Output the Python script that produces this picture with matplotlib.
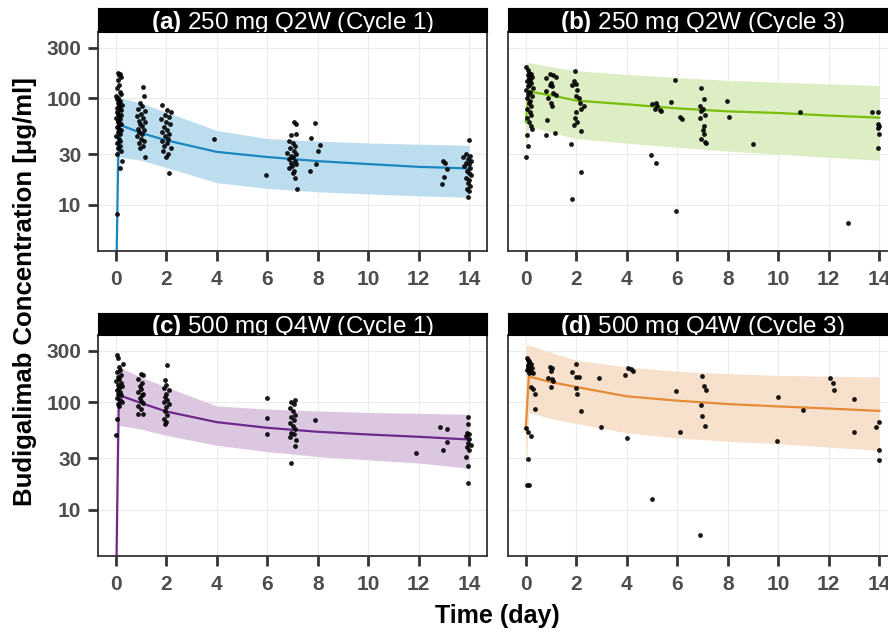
import numpy as np
import matplotlib
matplotlib.use("Agg")
import matplotlib.pyplot as plt
from matplotlib.ticker import FixedLocator, NullLocator, FixedFormatter

plt.rcParams['font.family'] = ['Liberation Sans', 'DejaVu Sans']
plt.rcParams['mathtext.fontset'] = 'custom'
plt.rcParams['mathtext.rm'] = 'Liberation Sans'
plt.rcParams['mathtext.bf'] = 'Liberation Sans:bold'

nan = np.nan

# ---------------- data ----------------
panel_titles = [r"$\mathbf{(a)}$ 250 mg Q2W (Cycle 1)",
                r"$\mathbf{(b)}$ 250 mg Q2W (Cycle 3)",
                r"$\mathbf{(c)}$ 500 mg Q4W (Cycle 1)",
                r"$\mathbf{(d)}$ 500 mg Q4W (Cycle 3)"]
x_ticks = [0, 2, 4, 6, 8, 10, 12, 14]
y_ticks = [10, 30, 100, 300]
y_tick_labels = ["10", "30", "100", "300"]

model_t = [0, 0.125, 1, 2, 4, 6, 8, 10, 12, 14]

a_med = [1.0, 57, 47.4, 40.5, 31.5, 28.2, 25.8, 24.2, 22.8, 22.0]
a_lo = [nan, 28.3, 26.3, 22.5, 16.2, 14.3, 13.3, 12.7, 12.2, 11.8]
a_hi = [nan, 103, 90, 74.5, 50, 42, 39.8, 38.2, 37.2, 36.3]

b_med = [60, 116, 107, 95.5, 88, 80.6, 75.6, 73, 69, 66]
b_lo = [32, 55, 48, 42, 38, 34.8, 32, 30, 28, 26.3]
b_hi = [212, 217, 198, 182, 168, 157, 148, 142, 137, 132]

c_med = [1.0, 116, 98, 81.7, 65, 57.6, 52.9, 49.9, 47.5, 44.8]
c_lo = [nan, 60.7, 56, 49, 39.6, 34.6, 31.1, 29.0, 27.1, 24.2]
c_hi = [nan, 212, 170, 138, 92, 86, 82.6, 80, 78.5, 77]

d_med = [55.6, 173, 153, 138, 113, 103, 95.7, 91, 87, 82.7]
d_lo = [20, 80, 70, 63, 51.7, 46.4, 43.1, 41, 38, 35.5]
d_hi = [330, 340, 290, 245, 212, 193, 184, 177, 174, 171]

# observations, panel a
a_obs_t = [0.10, 0.18, 0.14, 0.22, 0.08, 0.12, 0.05, 0.16, 0.20, 0.03, 0.11, 0.07, 0.19, 0.15, 0.09, 0.24,
           0.13, 0.04, 0.17, 0.21, 0.06, 0.10, 0.23, 0.14, 0.02, 0.18, 0.11, 0.08, 0.20, 0.15, 0.05, 0.12,
           0.22, 0.09, 0.17, 0.03, 0.13, 0.19, 0.07, 0.16, 0.10, 0.21, 0.06, 0.25, 0.18, 0.05,
           1.10, 1.12, 0.95, 1.05, 0.90, 1.15, 1.00, 0.85, 1.08, 0.92, 1.18, 0.97, 1.03, 0.88, 1.12, 0.94,
           1.06, 0.86, 1.01, 1.14, 0.91, 1.09, 0.96, 1.15,
           1.85, 2.05, 2.20, 1.95, 2.10, 1.80, 2.00, 2.15, 1.90, 2.05, 1.85, 2.12, 1.97, 2.08, 1.83, 2.02,
           1.93, 2.18, 1.88, 2.06, 1.98, 2.10,
           3.89, 5.96,
           7.05, 7.12, 7.15, 6.95, 6.85, 7.00, 7.10, 6.90, 7.05, 6.80, 7.15, 6.95, 7.02, 6.88, 7.08, 6.93,
           7.13, 6.98, 6.86, 7.06, 7.00, 7.10, 7.18,
           7.74, 7.90, 8.08, 8.02, 7.95, 7.70,
           12.95, 13.05, 13.10, 13.00, 12.92,
           13.98, 13.85, 14.02, 13.75, 13.95, 14.05, 13.88, 13.99, 13.80, 14.03, 13.92, 13.97, 14.06, 13.86,
           14.00, 13.94, 14.04, 13.90, 13.98, 13.96]
a_obs_c = [175, 170, 165, 160, 150, 135, 125, 115, 110, 105, 100, 98, 95, 92, 90, 87,
           85, 82, 80, 78, 75, 72, 70, 68, 66, 64, 62, 60, 58, 56, 54, 52,
           50, 48, 46, 44, 42, 40, 38, 36, 34, 32, 30, 26, 22, 8.2,
           128, 105, 90, 85, 80, 76, 72, 68, 65, 62, 60, 57, 55, 52, 50, 48,
           46, 44, 42, 40, 38, 36, 34, 28,
           86, 78, 75, 70, 67, 64, 60, 57, 54, 51, 48, 46, 44, 42, 40, 38,
           36, 34, 32, 30, 28, 20,
           42, 19,
           60, 57, 46, 45, 40, 38, 36, 34, 32, 31, 30, 29, 28, 27, 26, 25,
           24, 23, 22, 21, 20, 18, 14,
           42.6, 59, 36.3, 32, 24.2, 20.9,
           25.9, 25, 21.7, 18.2, 15.8,
           41, 30, 29, 28, 27, 26, 25, 24, 23, 22, 21, 20, 19, 18,
           17, 16, 15, 14, 13.5, 12]

# observations, panel b
b_obs_t = [0.02, 0.10, 0.15, 0.20, 0.08, 0.25, 0.12, 0.18, 0.05, 0.22, 0.14, 0.09, 0.27, 0.03, 0.17, 0.11,
           0.24, 0.06, 0.19, 0.13, 0.21, 0.04, 0.16, 0.23, 0.07, 0.12, 0.20, 0.26, 0.05, 0.10, 0.02,
           0.95, 1.10, 1.20, 0.80, 1.00, 0.95, 1.05, 0.80, 1.10, 1.20, 0.90, 1.00, 1.05, 0.85, 0.80, 1.15,
           1.95, 1.90, 2.00, 1.85, 2.05, 2.00, 2.10, 2.15, 2.30, 2.20, 2.00, 1.95, 2.05, 1.90, 2.20, 1.78,
           2.20, 1.85,
           5.00, 5.15, 5.20, 5.30, 5.35, 5.10, 4.95, 5.15,
           5.76, 5.90, 6.10, 6.20, 5.95,
           6.95, 7.05, 6.90, 7.00, 6.95, 7.10, 6.90, 7.05, 7.00, 7.05, 6.95, 7.10, 7.15,
           7.97, 8.05, 8.99, 10.86, 12.77,
           13.70, 13.95, 13.95, 14.00, 13.95, 14.00, 13.95]
b_obs_c = [199, 185, 175, 170, 165, 160, 155, 150, 145, 140, 135, 130, 125, 120, 115, 110,
           105, 100, 95, 90, 85, 80, 75, 70, 65, 60, 55, 52, 45, 36, 28,
           170, 165, 160, 155, 140, 135, 130, 118, 112, 108, 100, 90, 85, 63, 45, 47,
           182, 145, 138, 133, 120, 106, 100, 90, 85, 80, 74, 65, 60, 56, 49, 37,
           20.4, 11.4,
           88, 90, 85, 78, 76, 80, 29.3, 24.9,
           92.4, 150, 66.5, 63.9, 8.7,
           126, 99, 84, 80, 77, 70, 66, 55, 50, 46, 42, 39, 38,
           94.5, 66.7, 37.2, 74.5, 6.8,
           75, 75, 58, 55, 53, 46, 34]

# observations, panel c
c_obs_t = [0.05, 0.08, 0.30, 0.12, 0.18, 0.06, 0.22, 0.10, 0.15, 0.03, 0.20, 0.09, 0.25, 0.13, 0.07, 0.17,
           0.11, 0.21, 0.04, 0.16, 0.24, 0.08, 0.14, 0.05, 0.03,
           1.00, 1.10, 0.90, 1.05, 0.95, 1.00, 0.90, 1.10, 1.05, 0.95, 1.00, 1.10, 0.90, 1.00, 0.90, 1.10,
           2.05, 1.95, 2.00, 1.90, 2.10, 2.00, 1.95, 2.05, 1.90, 2.10, 2.00, 1.95, 2.05, 1.90, 2.00, 1.95,
           6.00, 6.00, 6.00,
           7.10, 6.95, 7.05, 6.90, 7.00, 7.10, 6.95, 7.05, 6.90, 7.00, 7.10, 6.95, 7.05, 6.90, 7.15, 7.10,
           6.95,
           7.90, 11.89, 12.85, 13.10, 13.10, 12.95,
           13.95, 13.95, 13.90, 14.00, 13.85, 14.00, 13.95, 14.05, 13.90, 14.00, 13.85, 13.95, 13.95]
c_obs_c = [273, 255, 228, 213, 200, 190, 180, 172, 165, 158, 150, 145, 140, 135, 130, 125,
           120, 115, 110, 105, 100, 95, 92, 69, 49,
           184, 178, 165, 150, 140, 132, 125, 120, 115, 108, 102, 97, 92, 87, 77, 77,
           223, 160, 145, 135, 128, 120, 112, 105, 100, 95, 90, 82, 76, 70, 65, 62,
           108.7, 70.7, 49.9,
           104, 100, 95, 88, 82, 76, 72, 68, 64, 60, 56, 52, 50, 47, 44, 39,
           27,
           67.6, 33.5, 58.6, 56.5, 42.6, 35.5,
           73, 63, 52, 50, 48, 45, 42, 40, 38, 36, 30.5, 25.5, 17.5]

# observations, panel d
d_obs_t = [0.05, 0.10, 0.15, 0.12, 0.20, 0.08, 0.18, 0.10, 0.25, 0.05, 0.15, 0.22, 0.12, 0.30,
           0.20, 0.30, 0.35, 0.35, 0.00, 0.08, 0.20, 0.08, 0.05, 0.15,
           0.95, 1.05, 1.00, 0.90, 1.05, 1.10, 1.00,
           2.00, 1.85, 2.00, 2.10, 2.00, 2.05, 2.20,
           2.89, 2.97,
           4.05, 4.15, 4.25, 3.95, 4.00,
           5.00, 5.95, 6.10,
           6.98, 7.05, 7.14, 6.95, 6.97, 7.10, 6.90,
           9.99, 9.95, 10.97,
           12.05, 12.15, 12.20,
           13.00, 13.00,
           13.98, 13.85, 14.00, 14.00]
d_obs_c = [258, 245, 240, 232, 225, 220, 215, 210, 205, 200, 198, 192, 188, 185,
           137, 133, 119, 86, 57, 53, 48, 29.7, 17.1, 17.1,
           213, 205, 196, 168, 162, 158, 139,
           228, 190, 171, 171, 135, 119, 82.6,
           167, 58.5,
           205, 203, 195, 177, 46.4,
           12.6, 127, 53,
           173, 141, 128, 93.9, 74.0, 59.7, 5.8,
           112, 43.1, 84,
           165.5, 151, 128,
           106.7, 53,
           65, 58.5, 35.5, 28.6]

line_colors = ["#1A86C0", "#78BE0A", "#6E2A8A", "#E58A35"]
band_colors = ["#BCDDEE", "#DDEDC4", "#DCC7E1", "#F8E1CC"]

meds = [a_med, b_med, c_med, d_med]
los = [a_lo, b_lo, c_lo, d_lo]
his = [a_hi, b_hi, c_hi, d_hi]
obs_t = [a_obs_t, b_obs_t, c_obs_t, d_obs_t]
obs_c = [a_obs_c, b_obs_c, c_obs_c, d_obs_c]

# ---------------- layout ----------------
W, H = 888, 632
fig = plt.figure(figsize=(W / 100, H / 100), dpi=100)
fig.patch.set_facecolor("white")

def rect(x0, y0, x1, y1):
    return [x0 / W, 1 - y1 / H, (x1 - x0) / W, (y1 - y0) / H]

cols = [(98, 487), (508, 897)]
rows = [((8, 32), (32, 251)), ((313, 335), (335, 556))]

tick_col = "#333333"
lab_col = "#4D4D4D"

for i in range(4):
    r, c = divmod(i, 2)
    x0, x1 = cols[c]
    (sy0, sy1), (py0, py1) = rows[r]
    ax = fig.add_axes(rect(x0, py0, x1, py1))
    ax.set_yscale("log")
    ax.set_xlim(-0.7, 14.7)
    ax.set_ylim(3.7, 420)
    ax.yaxis.set_major_locator(FixedLocator(y_ticks))
    ax.yaxis.set_major_formatter(FixedFormatter(y_tick_labels))
    ax.yaxis.set_minor_locator(NullLocator())
    ax.xaxis.set_major_locator(FixedLocator(x_ticks))
    ax.grid(True, which="major", color="#EBEBEB", lw=0.8, zorder=0)
    ax.set_axisbelow(True)
    for s in ax.spines.values():
        s.set_color(tick_col)
        s.set_linewidth(1.3)
        s.set_zorder(5)
    ax.tick_params(axis="both", direction="out", length=7.5, width=2.0, color=tick_col,
                   labelsize=15, labelcolor=lab_col)
    ax.tick_params(axis="x", pad=6.5)
    ax.tick_params(axis="y", pad=4.5)
    for lab in ax.get_xticklabels() + ax.get_yticklabels():
        lab.set_fontweight("bold")
    if c == 1:
        ax.tick_params(axis="y", left=False, labelleft=False)

    ax.fill_between(model_t, los[i], his[i], color=band_colors[i], lw=0, zorder=1)
    ax.plot(model_t, meds[i], color=line_colors[i], lw=1.6, zorder=2)
    ax.scatter(obs_t[i], obs_c[i], s=12, color="black", alpha=0.9, linewidths=0, zorder=3)

    # strip
    sax = fig.add_axes(rect(x0, sy0, x1, sy1))
    sax.set_facecolor("black")
    sax.set_xticks([])
    sax.set_yticks([])
    for s in sax.spines.values():
        s.set_color("black")
    sh = sy1 - sy0
    sax.text(0.5, 2.5 / sh, panel_titles[i], transform=sax.transAxes, ha="center",
             va="baseline", color="white", fontsize=17.5, clip_on=True)

fig.text(497 / W, 1 - 623 / H, "Time (day)", ha="center", va="baseline",
         fontsize=18, fontweight="bold", color="black")
fig.text(32 / W, 1 - 292 / H, "Budigalimab Concentration [\u03bcg/ml]", ha="center",
         va="baseline", rotation=90, rotation_mode="anchor", fontsize=18.5,
         fontweight="bold", color="black")

fig.savefig("out.png", dpi=100)
